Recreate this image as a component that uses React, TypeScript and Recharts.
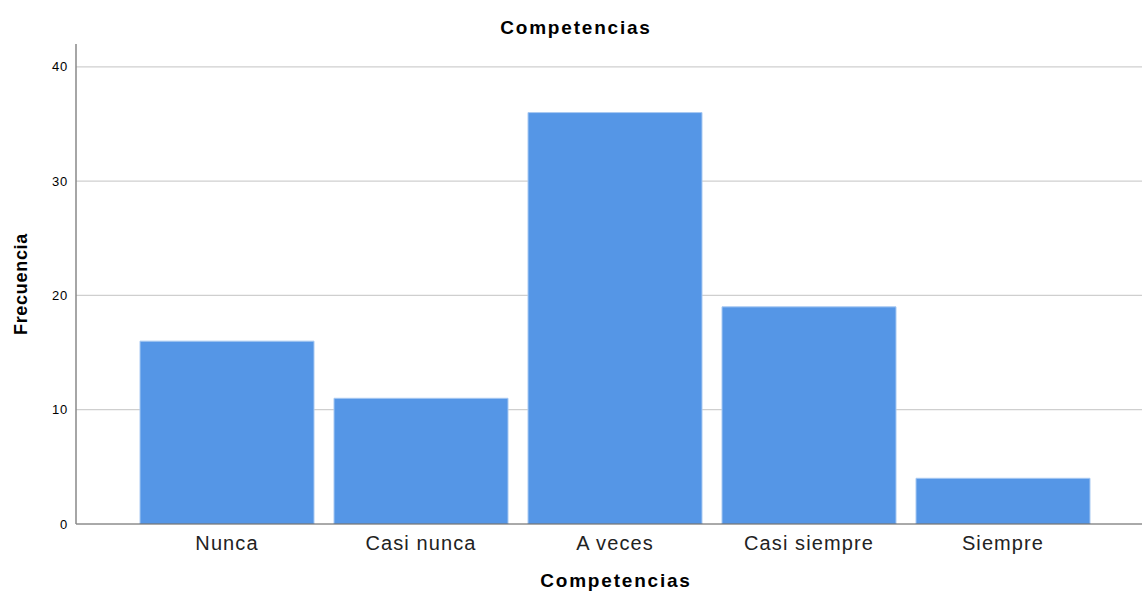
import React from "react";
import { BarChart, Bar, XAxis, YAxis, CartesianGrid } from "recharts";

const categories = ["Nunca", "Casi nunca", "A veces", "Casi siempre", "Siempre"];
const frecuencia = [16, 11, 36, 19, 4];
const yTicks = [0, 10, 20, 30, 40];

const data = categories.map((c, i) => ({ name: c, value: frecuencia[i] }));

const FONT = '"Liberation Sans", Arial, sans-serif';

export default function App() {
  return (
    <div style={{ position: "absolute", left: 0, top: 0, width: 1142, height: 592, background: "#fff", fontFamily: FONT }}>
      <div style={{ position: "absolute", left: 0, width: 1152, top: 18, textAlign: "center", fontWeight: "bold", fontSize: 19, letterSpacing: 1.8, color: "#000", lineHeight: "20px" }}>
        Competencias
      </div>
      <div style={{ position: "absolute", left: 415, width: 402, top: 571, textAlign: "center", fontWeight: "bold", fontSize: 19, letterSpacing: 1.8, color: "#000", lineHeight: "20px" }}>
        Competencias
      </div>
      <div style={{ position: "absolute", left: 21, top: 284, width: 0, height: 0 }}>
        <div style={{ position: "absolute", left: -100, top: -10, width: 200, textAlign: "center", transform: "rotate(-90deg)", fontWeight: "bold", fontSize: 18, letterSpacing: 0.7, lineHeight: "20px", color: "#000" }}>
          Frecuencia
        </div>
      </div>
      <div style={{ position: "absolute", left: 0, top: 0 }}>
        <BarChart width={1142} height={592} data={data} margin={{ top: 44, right: 0, bottom: 0, left: 0 }} barCategoryGap={10}>
          <CartesianGrid horizontal vertical={false} horizontalValues={[10, 20, 30, 40]} stroke="#cfcfcf" strokeWidth={1.2} />
          <XAxis
            dataKey="name"
            height={68}
            padding={{ left: 54, right: 42 }}
            tickLine={false}
            axisLine={{ stroke: "#555", strokeWidth: 1 }}
            tick={{ fill: "#222", fontSize: 20, fontFamily: FONT, letterSpacing: 1.1 }}
            tickMargin={6}
            interval={0}
          />
          <YAxis
            width={76}
            domain={[0, 42]}
            ticks={yTicks}
            tickLine={false}
            axisLine={{ stroke: "#888", strokeWidth: 1.5 }}
            tick={{ fill: "#000", fontSize: 13, fontFamily: FONT, letterSpacing: 0.8 }}
            tickMargin={2}
            allowDataOverflow
          />
          <Bar dataKey="value" fill="#5596e6" stroke="#a8c9f2" strokeWidth={1} isAnimationActive={false} />
        </BarChart>
      </div>
    </div>
  );
}
